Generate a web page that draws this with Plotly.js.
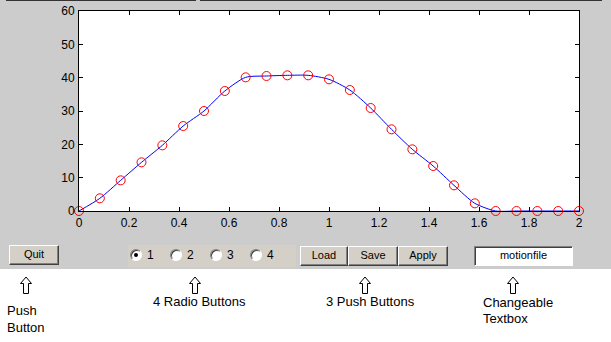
<!DOCTYPE html>
<html>
<head>
<meta charset="utf-8">
<script src="https://cdn.plot.ly/plotly-3.0.1.min.js"></script>
<style>
  html, body { margin: 0; padding: 0; background: #ffffff; }
  #wrap { position: relative; width: 611px; height: 342px; overflow: hidden; font-family: "Liberation Sans", Arial, sans-serif; }
  #fig { position: absolute; left: 0; top: 0; width: 611px; height: 269px; background: #cccccc; }
  .topline { position: absolute; top: 0; height: 1px; background: #333333; }
  #chart { position: absolute; left: 0; top: 0; width: 611px; height: 342px; }
  .btn { position: absolute; box-sizing: border-box; background: #d4d0c8; border: 1px solid; border-color: #ffffff #404040 #404040 #ffffff; box-shadow: inset -1px -1px 0 #808080; font-size: 11px; color: #000; text-align: center; line-height: 17px; }
  .edit { position: absolute; box-sizing: border-box; background: #ffffff; border: 1px solid; border-color: #808080 #ffffff #ffffff #808080; box-shadow: inset 1px 1px 0 #404040; font-size: 11px; color: #000; text-align: center; line-height: 17px; }
  .radiopanel { position: absolute; background: #d4d0c8; }
  .radio { position: absolute; box-sizing: border-box; width: 12px; height: 12px; border-radius: 50%; background: #ffffff; border: 1px solid; border-color: #808080 #ffffff #ffffff #808080; box-shadow: inset 1px 1px 0 #404040; }
  .dot { position: absolute; left: 3px; top: 3px; width: 4px; height: 4px; border-radius: 50%; background: #000; }
  .rlab { position: absolute; font-size: 12px; line-height: 14px; color: #000; }
  .note { position: absolute; font-size: 13px; line-height: 16px; color: #000; white-space: nowrap; }
  .arrow { position: absolute; }
</style>
</head>
<body>
<div id="wrap">
  <div id="fig"></div>
  <div class="topline" style="left:6px;width:190px;"></div>
  <div class="topline" style="left:200px;width:402px;"></div>
  <div id="chart"></div>

  <div class="btn" style="left:9px;top:245px;width:50px;height:20px;">Quit</div>

  <div class="radiopanel" style="left:128px;top:245px;width:168px;height:22px;"></div>
  <div id="radios"></div>

  <div class="btn" style="left:300px;top:246px;width:48px;height:20px;">Load</div>
  <div class="btn" style="left:348px;top:246px;width:50px;height:20px;">Save</div>
  <div class="btn" style="left:398px;top:246px;width:50px;height:20px;">Apply</div>

  <div class="edit" style="left:474px;top:246px;width:99px;height:20px;">motionfile</div>

  <div id="arrows"></div>

  <div class="note" style="left:7px;top:303px;">Push</div>
  <div class="note" style="left:7px;top:320px;">Button</div>
  <div class="note" style="left:153px;top:294px;">4 Radio Buttons</div>
  <div class="note" style="left:326px;top:294px;">3 Push Buttons</div>
  <div class="note" style="left:483px;top:295px;">Changeable</div>
  <div class="note" style="left:483px;top:311px;">Textbox</div>
</div>

<script>
// ---- chart data ----
var timeValues = [0, 0.0833, 0.1667, 0.25, 0.3333, 0.4167, 0.5, 0.5833, 0.6667, 0.75, 0.8333, 0.9167, 1,
                  1.0833, 1.1667, 1.25, 1.3333, 1.4167, 1.5, 1.5833, 1.6667, 1.75, 1.8333, 1.9167, 2];
var motionValues = [0, 3.8, 9.2, 14.6, 19.7, 25.5, 30.0, 36.0, 40.1, 40.5, 40.7, 40.7, 39.5,
                    36.3, 30.9, 24.5, 18.5, 13.5, 7.7, 2.3, 0, 0, 0, 0, 0];
var xTickValues = [0, 0.2, 0.4, 0.6, 0.8, 1, 1.2, 1.4, 1.6, 1.8, 2];
var xTickLabels = ["0", "0.2", "0.4", "0.6", "0.8", "1", "1.2", "1.4", "1.6", "1.8", "2"];
var yTickValues = [0, 10, 20, 30, 40, 50, 60];
var yTickLabels = ["0", "10", "20", "30", "40", "50", "60"];
var radioLabels = ["1", "2", "3", "4"];

var tickFont = { family: "Liberation Sans, Arial, sans-serif", size: 12, color: "#000000" };

var traces = [
  {
    x: timeValues, y: motionValues, type: "scatter", mode: "lines",
    line: { color: "#0000ff", width: 1, shape: "spline", smoothing: 0.7 },
    hoverinfo: "skip", showlegend: false
  },
  {
    x: timeValues, y: motionValues, type: "scatter", mode: "markers",
    marker: { symbol: "circle-open", size: 9, color: "#ff0000", line: { width: 1, color: "#ff0000" } },
    cliponaxis: false, showlegend: false
  }
];

var axisCommon = {
  showline: true, linecolor: "#000000", linewidth: 1, mirror: "ticks",
  ticks: "inside", ticklen: 4, tickwidth: 1, tickcolor: "#000000",
  showgrid: false, zeroline: false, tickfont: tickFont, tickmode: "array"
};

var layout = {
  width: 611, height: 342,
  margin: { l: 79, r: 32, t: 11, b: 131, pad: 0 },
  paper_bgcolor: "rgba(0,0,0,0)",
  plot_bgcolor: "#ffffff",
  showlegend: false,
  xaxis: Object.assign({}, axisCommon, { range: [0, 2], tickvals: xTickValues, ticktext: xTickLabels, ticklabelstandoff: 1 }),
  yaxis: Object.assign({}, axisCommon, { range: [0, 60], tickvals: yTickValues, ticktext: yTickLabels, ticklabelstandoff: 1 })
};

Plotly.newPlot("chart", traces, layout, { displayModeBar: false, staticPlot: true });

// ---- GUI widgets under the axes ----
var radioBox = document.getElementById("radios");
var radioX = [130, 170, 210, 250];
radioLabels.forEach(function (lab, i) {
  var r = document.createElement("div");
  r.className = "radio";
  r.style.left = radioX[i] + "px";
  r.style.top = "249px";
  if (i === 0) { var d = document.createElement("div"); d.className = "dot"; r.appendChild(d); }
  radioBox.appendChild(r);
  var t = document.createElement("div");
  t.className = "rlab";
  t.style.left = (radioX[i] + 17) + "px";
  t.style.top = "248px";
  t.textContent = lab;
  radioBox.appendChild(t);
});

var arrowBox = document.getElementById("arrows");
var arrowX = [26, 195, 365, 513];
arrowX.forEach(function (cx) {
  var s = document.createElementNS("http://www.w3.org/2000/svg", "svg");
  s.setAttribute("class", "arrow");
  s.setAttribute("width", "14");
  s.setAttribute("height", "19");
  s.style.left = (cx - 7) + "px";
  s.style.top = "276px";
  var p = document.createElementNS("http://www.w3.org/2000/svg", "polygon");
  p.setAttribute("points", "7,1 12.5,7.5 9.5,7.5 9.5,17.5 4.5,17.5 4.5,7.5 1.5,7.5");
  p.setAttribute("fill", "#ffffff");
  p.setAttribute("stroke", "#000000");
  p.setAttribute("stroke-width", "1");
  s.appendChild(p);
  arrowBox.appendChild(s);
});
</script>
</body>
</html>
